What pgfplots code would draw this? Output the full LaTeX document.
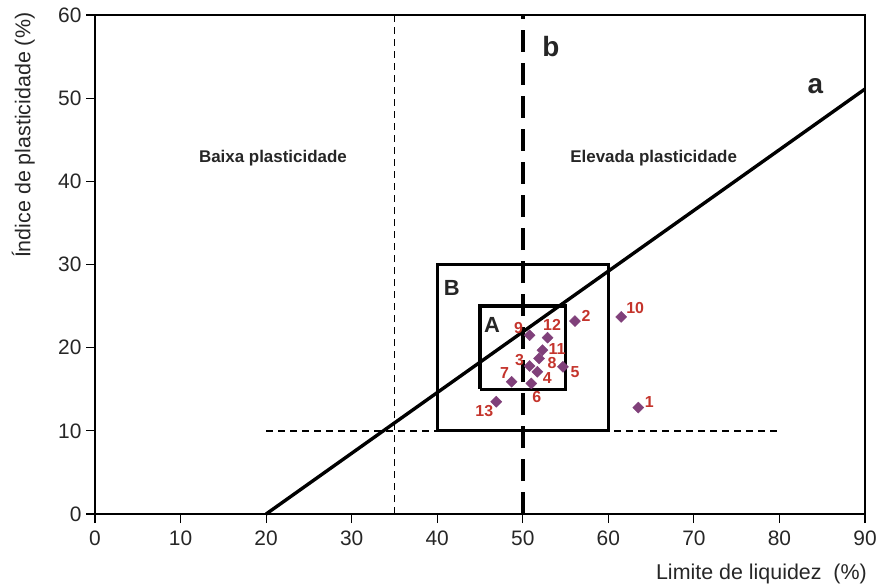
\documentclass[border=0pt]{standalone}
\usepackage{fontspec}
\setmainfont{Liberation Sans}
\usepackage{pgfplots}
\usepackage{pgfplotstable}
\pgfplotsset{compat=1.18}
\definecolor{mkpurple}{RGB}{128,64,122}
\definecolor{lblred}{RGB}{196,52,44}

\pgfplotstableread{
x y lab
63.5 12.8 1
56.1 23.2 2
50.8 17.8 3
51.7 17.1 4
54.7 17.7 5
51.0 15.7 6
48.7 15.9 7
51.9 18.7 8
50.8 21.5 9
61.5 23.7 10
52.3 19.7 11
52.9 21.2 12
46.9 13.5 13
}\pts

% x, y, label, dx, dy (offset of label centre in bp)
\newcommand{\ptlabel}[5]{%
  \addplot[draw=none, mark=none, point meta=explicit symbolic,
    nodes near coords={\pgfplotspointmeta},
    nodes near coords style={anchor=center, xshift=#4bp, yshift=#5bp, inner sep=0pt, text=lblred, font=\fontsize{16}{18}\selectfont\bfseries}]
    coordinates {(#1,#2) [#3]};}

\begin{document}
\begin{tikzpicture}
\begin{axis}[
  name=ax,
  scale only axis,
  width=770bp, height=499bp,
  xmin=0, xmax=90, ymin=0, ymax=60,
  xtick={0,10,...,90}, ytick={0,10,...,60},
  tick align=outside, xtick pos=bottom, ytick pos=left,
  major tick length=9bp,
  tick style={line width=1.2pt, black},
  axis line style={line width=1.8pt},
  /pgf/number format/assume math mode=true,
  ticklabel style={font=\fontsize{21}{23}\selectfont, text=black!85},
  xticklabel style={yshift=-4bp},
  yticklabel style={xshift=-1bp},
  xlabel={Limite de liquidez\ \ (\%)},
  ylabel={Índice de plasticidade (\%)},
  label style={font=\fontsize{21.5}{23}\selectfont, text=black!85},
  xlabel style={at={(axis description cs:1,0)}, anchor=north east, inner sep=0pt, yshift=-50bp, xshift=2bp},
  ylabel style={at={(axis description cs:-0.078,1.005)}, anchor=south east, inner sep=0pt},
  clip=false,
]
% boxes
\addplot[black, line width=3.2pt, no marks] coordinates {(40,10) (60,10) (60,30) (40,30) (40,10)};
\addplot[black, line width=3.2pt, no marks] coordinates {(45,15) (55,15) (55,25) (45,25) (45,15)};
% dashed lines
\addplot[black, line width=1.6pt, dash pattern=on 7bp off 5bp, no marks] coordinates {(35,0) (35,60)};
\addplot[black, line width=1.6pt, dash pattern=on 7bp off 5bp, no marks] coordinates {(20,10) (80,10)};
% line a
\addplot[black, line width=3.4pt, no marks] coordinates {(20,0) (90,51.1)};
% line b
\addplot[black, line width=3.6pt, dash pattern=on 22bp off 11bp, no marks] coordinates {(50,0) (50,60)};
% points
\addplot[only marks, mark=square*, mark size=3.9bp, mark options={rotate=45, fill=mkpurple, draw=mkpurple}] table[x=x, y=y] {\pts};
% point labels
\ptlabel{63.5}{12.8}{1}{11}{6}
\ptlabel{56.1}{23.2}{2}{11}{5}
\ptlabel{50.8}{17.8}{3}{-10}{6}
\ptlabel{51.7}{17.1}{4}{10}{-6}
\ptlabel{54.7}{17.7}{5}{12}{-5}
\ptlabel{51.0}{15.7}{6}{5.5}{-14}
\ptlabel{48.7}{15.9}{7}{-7}{8.5}
\ptlabel{51.9}{18.7}{8}{13}{-4.5}
\ptlabel{50.8}{21.5}{9}{-11}{7.5}
\ptlabel{61.5}{23.7}{10}{14}{9}
\ptlabel{52.3}{19.7}{11}{14.5}{1.5}
\ptlabel{52.9}{21.2}{12}{4.5}{12.5}
\ptlabel{46.9}{13.5}{13}{-12}{-9}
% texts
\node[font=\fontsize{17}{19}\selectfont\bfseries, text=black!85] at (axis cs:20.8,42.8) {Baixa plasticidade};
\node[font=\fontsize{17}{19}\selectfont\bfseries, text=black!85] at (axis cs:65.3,42.8) {Elevada plasticidade};
\node[font=\fontsize{28}{30}\selectfont\bfseries, text=black!85] at (axis cs:84.2,51.4) {a};
\node[font=\fontsize{28}{30}\selectfont\bfseries, text=black!85] at (axis cs:53.3,56.2) {b};
\node[font=\fontsize{22}{24}\selectfont\bfseries, text=black!85] at (axis cs:41.7,27.2) {B};
\node[font=\fontsize{22}{24}\selectfont\bfseries, text=black!85] at (axis cs:46.4,22.7) {A};
\end{axis}
\pgfresetboundingbox
\path ([shift={(-95bp,-71bp)}]ax.south west) rectangle ([shift={(12bp,15bp)}]ax.north east);
\end{tikzpicture}
\end{document}
